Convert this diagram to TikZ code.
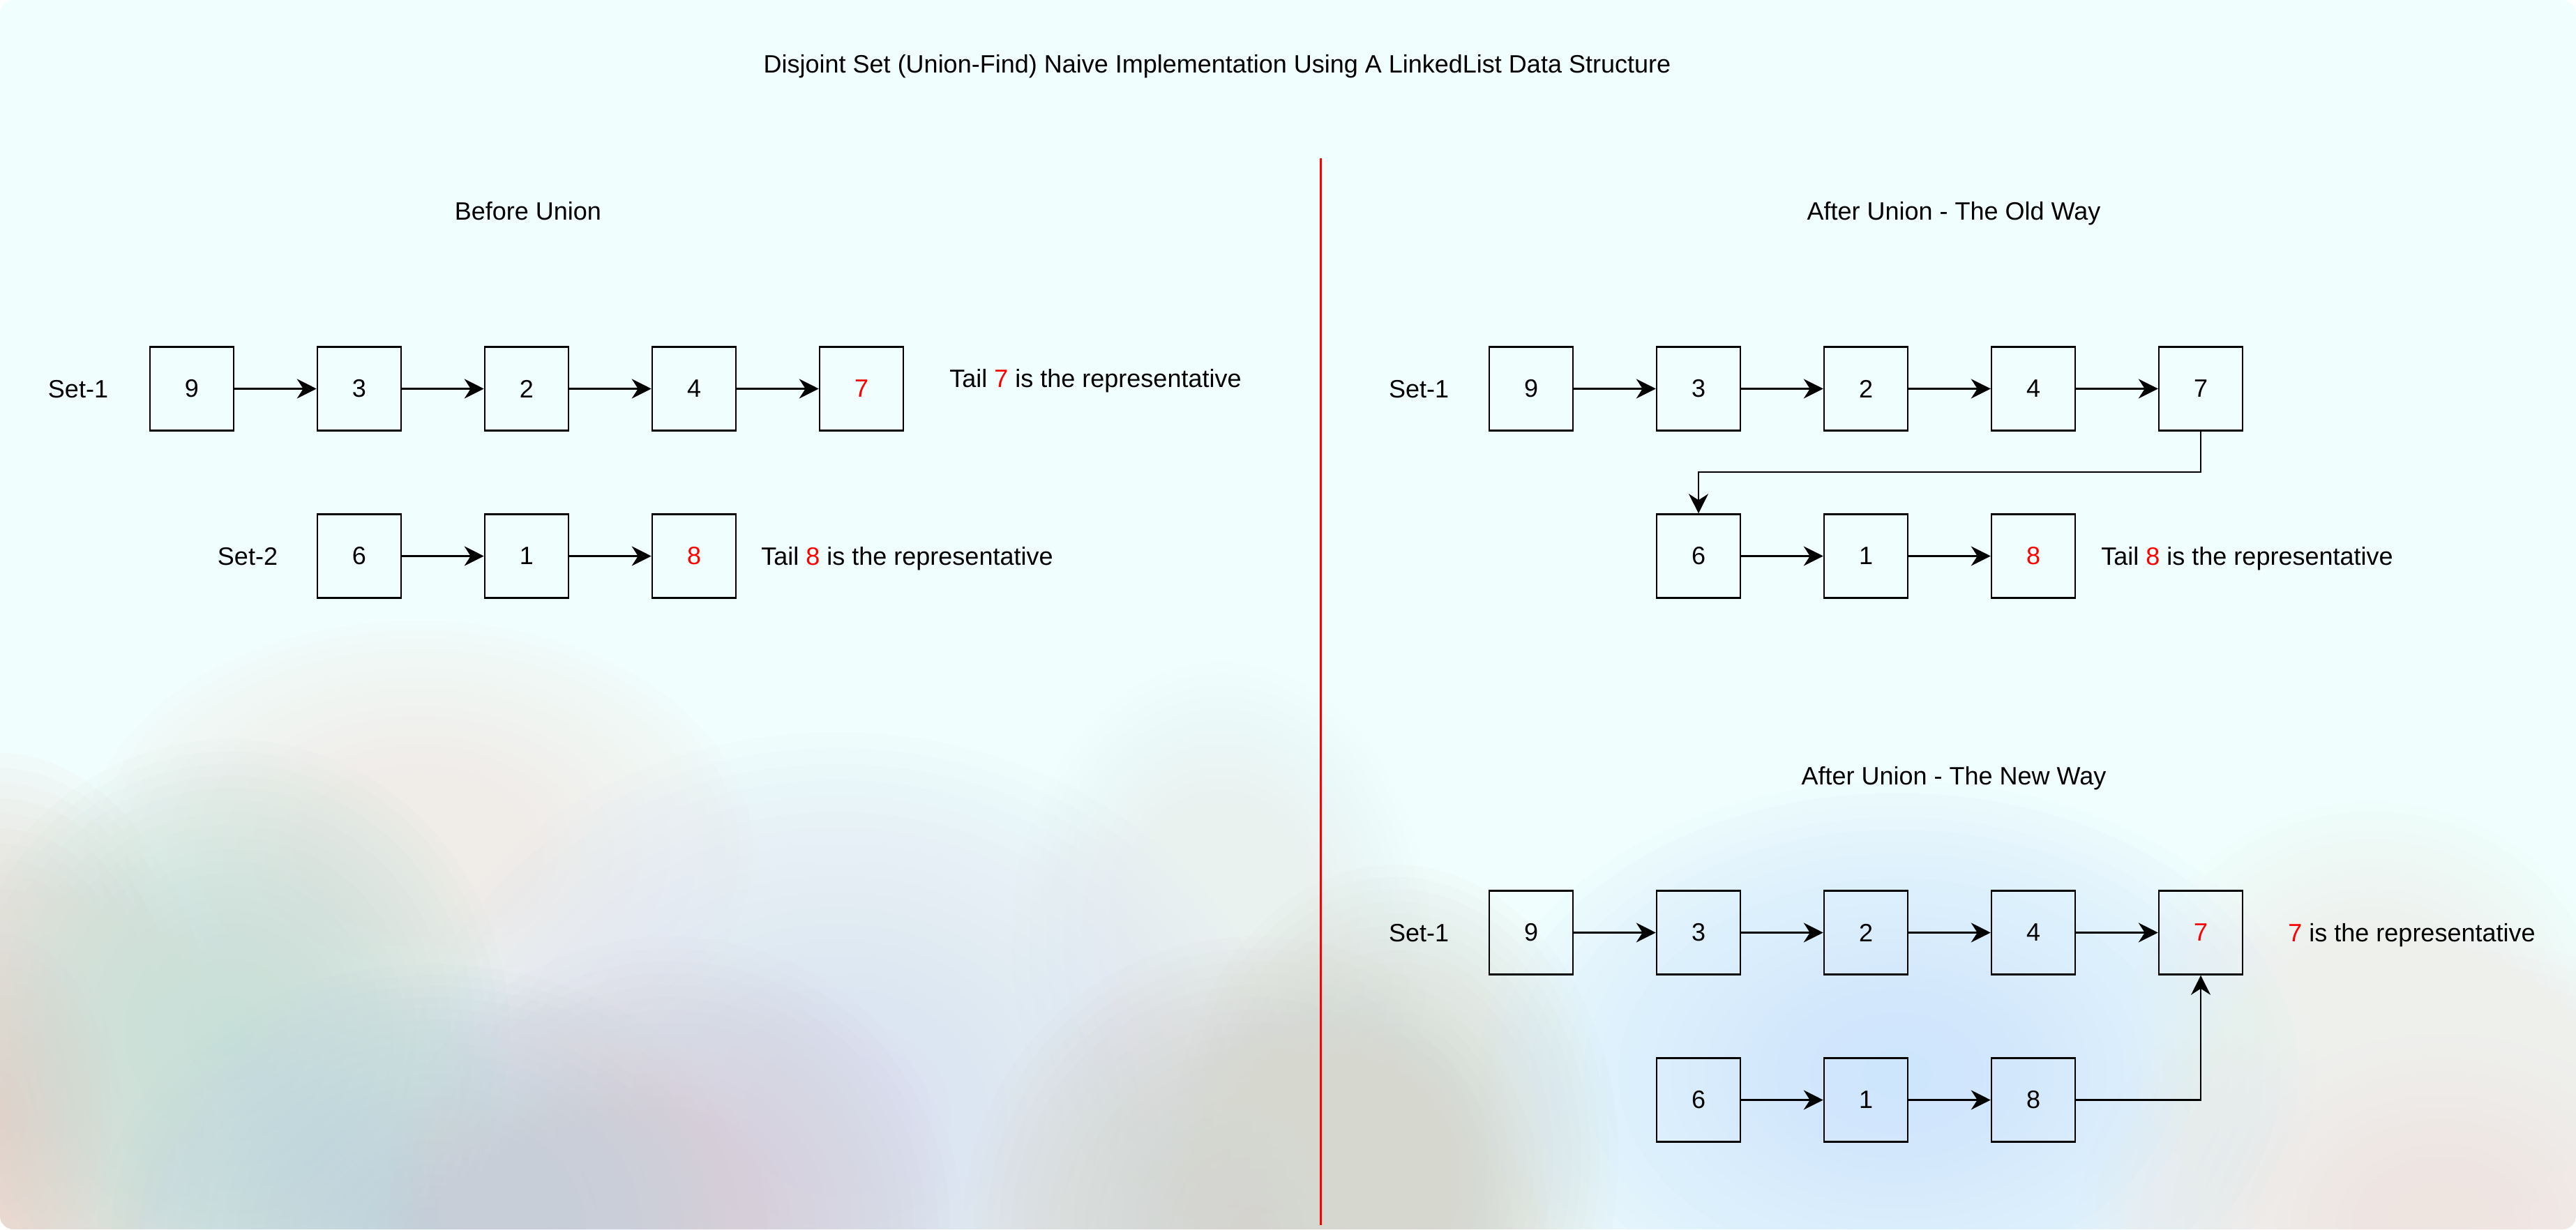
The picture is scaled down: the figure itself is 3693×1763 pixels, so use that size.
\documentclass[tikz,border=0pt]{standalone}
\usepackage{fontspec}
\setmainfont{Liberation Sans}
\usetikzlibrary{arrows.meta}
\definecolor{bgtop}{RGB}{240,254,253}
\definecolor{repred}{RGB}{255,0,0}
\definecolor{bA}{RGB}{242,236,232}
\definecolor{bB}{RGB}{220,226,242}
\definecolor{bC}{RGB}{234,242,240}
\definecolor{bD}{RGB}{232,208,198}
\definecolor{bE}{RGB}{198,224,216}
\definecolor{bF}{RGB}{190,210,220}
\definecolor{bG}{RGB}{214,206,216}
\definecolor{bH}{RGB}{212,210,204}
\definecolor{bI}{RGB}{214,216,208}
\definecolor{bJ}{RGB}{206,230,252}
\definecolor{bK}{RGB}{244,228,224}
\definecolor{bL}{RGB}{238,240,236}
\newcommand\softblob[5]{%
  \foreach \k in {1,...,24}{%
    \fill[#5, opacity=0.07] (#1,#2) ellipse [x radius={(#3)*\k/48*1pt}, y radius={(#4)*\k/48*1pt}];
  }}
\tikzset{
  every node/.style={font=\fontsize{18}{21.6}\selectfont},
  cell/.style={draw=black, line width=1.25pt, minimum width=60pt, minimum height=60pt, inner sep=0pt},
  lbl/.style={inner sep=0pt, anchor=base},
  lblw/.style={inner sep=0pt, anchor=base west},
  conn/.style={draw=black, line width=1.25pt, -{Stealth[length=14pt, width=14pt, inset=4.5pt]}},
  sep/.style={draw=repred, line width=1.5pt},
}
\begin{document}
\begin{tikzpicture}[x=0.5pt, y=-0.5pt]
\useasboundingbox (0,0) rectangle (3693,1763);
% background
\fill[white] (0,0) rectangle (3693,1763);
\begin{scope}
\clip[rounded corners=10pt] (0,0) rectangle (3693,1763);
\fill[bgtop] (0,0) rectangle (3693,1763);
\softblob{600}{1220}{480}{330}{bA}
\softblob{1750}{1350}{300}{400}{bC}
\softblob{1200}{1600}{650}{550}{bB}
\softblob{0}{1600}{320}{520}{bD}
\softblob{330}{1480}{400}{420}{bE}
\softblob{620}{1763}{480}{380}{bF}
\softblob{960}{1763}{420}{420}{bG}
\softblob{1800}{1763}{420}{420}{bH}
\softblob{2000}{1660}{320}{420}{bI}
\softblob{2720}{1540}{600}{420}{bJ}
\softblob{3500}{1763}{520}{420}{bK}
\softblob{3400}{1480}{350}{330}{bL}
\end{scope}

% title and headings
\node[lbl] (title) at (1745,104) {Disjoint Set (Union-Find) Naive Implementation Using A LinkedList Data Structure};
\node[lbl] (hbefore) at (757,315) {Before Union};
\node[lbl] (hold) at (2801,315) {After Union - The Old Way};
\node[lbl] (hnew) at (2801,1125) {After Union - The New Way};

% separator
\coordinate (septop) at (1893,227);
\coordinate (sepbot) at (1893,1757);
\draw[sep] (septop) -- (sepbot);

% ---------- Before Union ----------
\node[lbl] (Lset1) at (112,570) {Set-1};
\node[cell] (L9) at (275,557.5) {9};
\node[cell] (L3) at (515,557.5) {3};
\node[cell] (L2) at (755,557.5) {2};
\node[cell] (L4) at (995,557.5) {4};
\node[cell, text=repred] (L7) at (1235,557.5) {7};
\node[lblw] (Ltail7) at (1361,555) {Tail \textcolor{repred}{7} is the representative};
\draw[conn] (L9) -- (L3);
\draw[conn] (L3) -- (L2);
\draw[conn] (L2) -- (L4);
\draw[conn] (L4) -- (L7);

\node[lbl] (Lset2) at (355,810) {Set-2};
\node[cell] (L6) at (515,797.5) {6};
\node[cell] (L1) at (755,797.5) {1};
\node[cell, text=repred] (L8) at (995,797.5) {8};
\node[lblw] (Ltail8) at (1091,810) {Tail \textcolor{repred}{8} is the representative};
\draw[conn] (L6) -- (L1);
\draw[conn] (L1) -- (L8);

% ---------- After Union - Old Way ----------
\node[lbl] (Oset1) at (2034,570) {Set-1};
\node[cell] (O9) at (2195,557.5) {9};
\node[cell] (O3) at (2435,557.5) {3};
\node[cell] (O2) at (2675,557.5) {2};
\node[cell] (O4) at (2915,557.5) {4};
\node[cell] (O7) at (3155,557.5) {7};
\draw[conn] (O9) -- (O3);
\draw[conn] (O3) -- (O2);
\draw[conn] (O2) -- (O4);
\draw[conn] (O4) -- (O7);

\node[cell] (O6) at (2435,797.5) {6};
\node[cell] (O1) at (2675,797.5) {1};
\node[cell, text=repred] (O8) at (2915,797.5) {8};
\node[lblw] (Otail8) at (3012,810) {Tail \textcolor{repred}{8} is the representative};
\draw[conn] (O6) -- (O1);
\draw[conn] (O1) -- (O8);
\coordinate (Obend) at (3155,677);
\draw[conn] (O7.south) -- (Obend) -| (O6.north);

% ---------- After Union - New Way ----------
\node[lbl] (Nset1) at (2034,1350) {Set-1};
\node[cell] (N9) at (2195,1337.5) {9};
\node[cell] (N3) at (2435,1337.5) {3};
\node[cell] (N2) at (2675,1337.5) {2};
\node[cell] (N4) at (2915,1337.5) {4};
\node[cell, text=repred] (N7) at (3155,1337.5) {7};
\node[lblw] (Nrep) at (3280,1350) {\textcolor{repred}{7} is the representative};
\draw[conn] (N9) -- (N3);
\draw[conn] (N3) -- (N2);
\draw[conn] (N2) -- (N4);
\draw[conn] (N4) -- (N7);

\node[cell] (N6) at (2435,1577.5) {6};
\node[cell] (N1) at (2675,1577.5) {1};
\node[cell] (N8) at (2915,1577.5) {8};
\draw[conn] (N6) -- (N1);
\draw[conn] (N1) -- (N8);
\draw[conn] (N8.east) -| (N7.south);
\end{tikzpicture}
\end{document}
